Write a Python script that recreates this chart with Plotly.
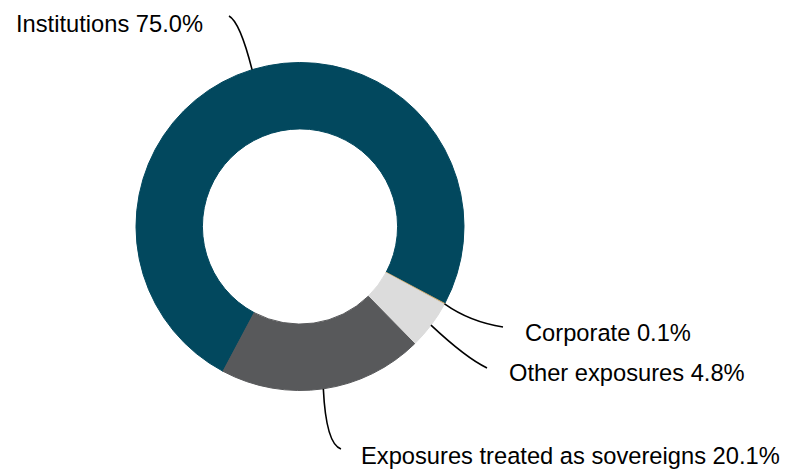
import math
import plotly.graph_objects as go

# Exposure breakdown (share of total, %)
categories = ["Institutions", "Corporate", "Other exposures", "Exposures treated as sovereigns"]
shares = [75.0, 0.1, 4.8, 20.1]
colors = ["#02485e", "#c9a66b", "#dcdcdc", "#58595b"]

W, H = 786, 469
ROTATION = 208          # start angle of the first slice, clockwise from 12 o'clock
CX, CY, R = 300, 226.5, 164   # donut centre / outer radius in pixels

# label anchor (left edge, vertical middle) and leader-line bend / end points in pixels
label_pos = {
    "Institutions": (14, 24),
    "Corporate": (523, 333),
    "Other exposures": (507, 373),
    "Exposures treated as sovereigns": (359, 456),
}
leader_ctrl = {
    "Institutions": (240, 22),
    "Corporate": (470, 322),
    "Other exposures": (466, 358),
    "Exposures treated as sovereigns": (326, 444),
}
leader_end = {
    "Institutions": (229, 16),
    "Corporate": (503, 327),
    "Other exposures": (487, 368),
    "Exposures treated as sovereigns": (341, 449),
}


def px(x):
    return x / W


def py(y):
    return 1 - y / H


fig = go.Figure(
    go.Pie(
        labels=categories,
        values=shares,
        sort=False,
        direction="clockwise",
        rotation=ROTATION,
        hole=0.595,
        marker=dict(colors=colors, line=dict(color=colors, width=1)),
        textinfo="none",
        hoverinfo="label+percent",
        showlegend=False,
        domain=dict(x=[px(CX - R), px(CX + R)], y=[py(CY + R), py(CY - R)]),
    )
)

total = sum(shares)
cum = 0.0
shapes, annotations = [], []
for name, v in zip(categories, shares):
    mid = ROTATION + (cum + v / 2) / total * 360
    cum += v
    a = math.radians(mid)
    sx, sy = CX + R * math.sin(a), CY - R * math.cos(a)
    cx_, cy_ = leader_ctrl[name]
    ex, ey = leader_end[name]
    shapes.append(
        dict(
            type="path",
            xref="paper",
            yref="paper",
            path=f"M {px(sx)} {py(sy)} Q {px(cx_)} {py(cy_)} {px(ex)} {py(ey)}",
            line=dict(color="#000000", width=1.6),
        )
    )
    lx, ly = label_pos[name]
    annotations.append(
        dict(
            x=px(lx),
            y=py(ly),
            xref="paper",
            yref="paper",
            xanchor="left",
            yanchor="middle",
            showarrow=False,
            text=f"{name} {v:.1f}%",
            font=dict(family="Liberation Sans, Arial, sans-serif", size=23.7, color="#000000"),
        )
    )

fig.update_layout(
    width=W,
    height=H,
    margin=dict(l=0, r=0, t=0, b=0),
    paper_bgcolor="#ffffff",
    plot_bgcolor="#ffffff",
    shapes=shapes,
    annotations=annotations,
)

fig.write_html("out.html")
